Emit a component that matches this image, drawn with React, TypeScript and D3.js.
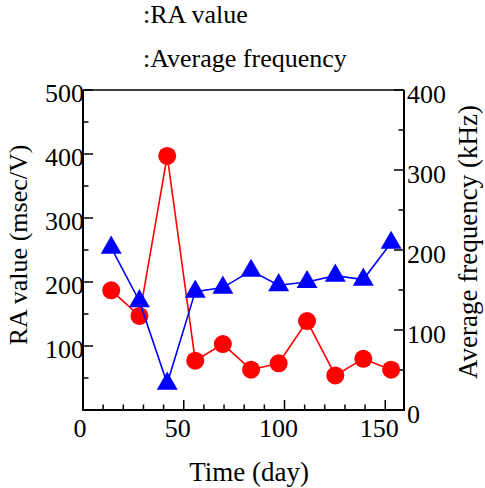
import React, { useLayoutEffect, useRef } from "react";
import * as d3 from "d3";

const days = [14, 28, 41.8, 55.7, 69.4, 83.4, 97.1, 111.2, 125.2, 139.1, 152.9];
const raValues = [187, 147, 397, 77, 103, 63, 73, 139, 54, 80, 63];
const avgFreq = [203, 136, 33, 148, 153, 174, 156, 160, 168, 163, 209];

const xMajorTicks = [0, 50, 100, 150];
const xTickLabels = ["0", "50", "100", "150"];
const leftMajorTicks = [100, 200, 300, 400, 500];
const leftTickLabels = ["100", "200", "300", "400", "500"];
const rightMajorTicks = [0, 100, 200, 300, 400];
const rightTickLabels = ["0", "100", "200", "300", "400"];

const legendLabels = [":RA value", ":Average frequency"];
const xTitle = "Time (day)";
const leftTitle = "RA value (msec/V)";
const rightTitle = "Average frequency (kHz)";

const TS = { fontFamily: '"Liberation Serif"' };

export default function App() {
  const ref = useRef<SVGSVGElement | null>(null);
  useLayoutEffect(() => {
    if (!ref.current) return;
    d3.select(ref.current)
      .selectAll("text")
      .each(function () {
        (this as SVGTextElement).style.setProperty("font-family", '"Liberation Serif"', "important");
      });
  }, []);

  const W = 485, H = 488;
  const left = 83, right = 404, top = 90, bottom = 410;
  const x = d3.scaleLinear().domain([0, 159.3]).range([left, right]);
  const yL = d3.scaleLinear().domain([0, 500]).range([bottom, top]);
  const yR = d3.scaleLinear().domain([0, 400]).range([bottom, top]);

  const xMinor = d3.range(10, 160, 10).filter((v) => v % 50 !== 0);
  const leftMinor = d3.range(50, 500, 100);
  const rightMinor = d3.range(50, 400, 100);

  const raLine = d3.line<number>().x((_, i) => x(days[i])).y((d) => yL(d))(raValues) || "";
  const frLine = d3.line<number>().x((_, i) => x(days[i])).y((d) => yR(d))(avgFreq) || "";
  const tri = d3.symbol().type(d3.symbolTriangle).size(190)() || "";

  return (
    <svg ref={ref} width={W} height={H} style={{ position: "absolute", left: 0, top: 0 }}>
      {/* legend */}
      <text x={143} y={23} fontSize={26} style={TS}>{legendLabels[0]}</text>
      <text x={143} y={67} fontSize={26} style={TS}>{legendLabels[1]}</text>

      {/* titles */}
      <text x={249} y={481} fontSize={27} textAnchor="middle" style={TS}>{xTitle}</text>
      <text transform="translate(27,245) rotate(-90)" fontSize={26} textAnchor="middle" style={TS}>{leftTitle}</text>
      <text transform="translate(477,242) rotate(-90)" fontSize={27} textAnchor="middle" style={TS}>{rightTitle}</text>

      {/* tick labels */}
      {xMajorTicks.map((v, i) => (
        <text key={"xl" + v} x={x(v) - (v === 0 ? 3 : 6)} y={437} textAnchor="middle" fontSize={26} style={TS}>{xTickLabels[i]}</text>
      ))}
      {leftMajorTicks.map((v, i) => (
        <text key={"ll" + v} x={84} y={yL(v) + 12} textAnchor="end" fontSize={26} style={TS}>{leftTickLabels[i]}</text>
      ))}
      {rightMajorTicks.map((v, i) => (
        <text key={"rl" + v} x={407} y={yR(v) + 13} textAnchor="start" fontSize={26} style={TS}>{rightTickLabels[i]}</text>
      ))}

      {/* frame */}
      <g stroke="#000" strokeWidth={2} fill="none">
        <line x1={left} y1={top} x2={right} y2={top} strokeWidth={1.5} />
        <line x1={left} y1={top} x2={left} y2={bottom} />
        <line x1={right} y1={top} x2={right} y2={bottom} />
        <line x1={left - 1} y1={bottom} x2={right + 1} y2={bottom} />
      </g>

      {/* ticks */}
      <g stroke="#000" strokeWidth={1.5}>
        {xMajorTicks.map((v) => (
          <line key={"xM" + v} x1={x(v)} x2={x(v)} y1={bottom} y2={bottom - 10} />
        ))}
        {xMinor.map((v) => (
          <line key={"xm" + v} x1={x(v)} x2={x(v)} y1={bottom} y2={bottom - 5.5} />
        ))}
        {leftMajorTicks.map((v) => (
          <line key={"lM" + v} x1={left} x2={left + 10} y1={yL(v)} y2={yL(v)} />
        ))}
        {leftMinor.map((v) => (
          <line key={"lm" + v} x1={left} x2={left + 5.5} y1={yL(v)} y2={yL(v)} />
        ))}
        {rightMajorTicks.map((v) => (
          <line key={"rM" + v} x1={right} x2={right - 10} y1={yR(v)} y2={yR(v)} />
        ))}
        {rightMinor.map((v) => (
          <line key={"rm" + v} x1={right} x2={right - 5.5} y1={yR(v)} y2={yR(v)} />
        ))}
      </g>

      {/* RA series */}
      <path d={raLine} fill="none" stroke="#ff0000" strokeWidth={1.6} />
      {raValues.map((v, i) => (
        <circle key={"c" + i} cx={x(days[i])} cy={yL(v)} r={9} fill="#ff0000" />
      ))}

      {/* frequency series */}
      <path d={frLine} fill="none" stroke="#0000ff" strokeWidth={1.6} />
      {avgFreq.map((v, i) => (
        <path key={"t" + i} d={tri} transform={`translate(${x(days[i])},${yR(v)})`} fill="#0000ff" />
      ))}
    </svg>
  );
}
